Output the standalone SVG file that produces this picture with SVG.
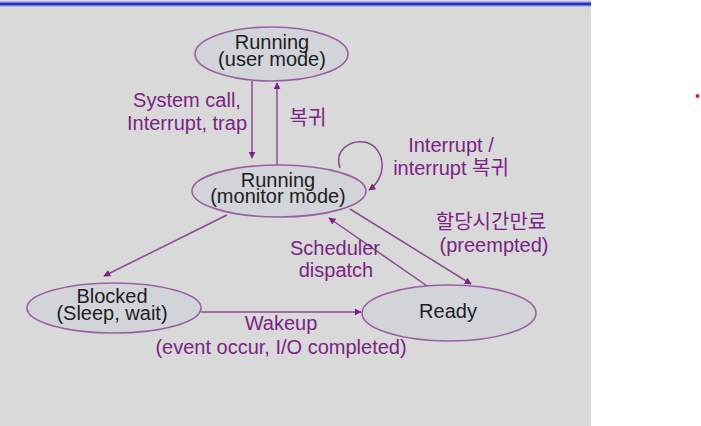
<svg xmlns="http://www.w3.org/2000/svg" width="701" height="426" viewBox="0 0 701 426">
<defs>
<style>
.node{fill:#d3d3da;stroke:#9a5fa3;stroke-width:1.6}
.nt{font-family:"Liberation Sans",Arial,sans-serif;font-size:20px;fill:#1e1e1e;text-anchor:middle}
.lb{font-family:"Liberation Sans","Noto Sans CJK KR",sans-serif;font-size:20px;fill:#7b2384;text-anchor:middle}
.ln{fill:none;stroke:#8c4892;stroke-width:1.5;marker-end:url(#ah)}
</style>
<marker id="ah" viewBox="0 0 10 10" refX="9" refY="5" markerWidth="7" markerHeight="7" markerUnits="userSpaceOnUse" orient="auto">
<path d="M0,0 L10,5 L0,10 z" fill="#7b2384"/>
</marker>
</defs>
<rect x="0" y="0" width="701" height="426" fill="#ffffff"/>
<rect x="0" y="0" width="591" height="426" fill="#d9d9d9"/>
<rect x="0" y="1.5" width="591" height="5" fill="#8a8ff0"/>
<rect x="0" y="2.8" width="591" height="2.4" fill="#2a32b8"/>
<circle cx="697.5" cy="96" r="2" fill="#e52020"/>

<g id="connectors">
<line class="ln" x1="252" y1="81" x2="252" y2="158"/>
<line class="ln" x1="277" y1="165" x2="277" y2="83"/>
<path class="ln" d="M340,168 C334,150 350,140 364,142 C384,145 390,175 369,190"/>
<line class="ln" x1="227" y1="215" x2="104" y2="276"/>
<line class="ln" x1="350" y1="209" x2="471" y2="284"/>
<line class="ln" x1="430" y1="288" x2="329" y2="218"/>
<line class="ln" x1="201" y1="312" x2="361" y2="312"/>
</g>

<g id="n_user">
<ellipse class="node" cx="271.5" cy="54" rx="76.5" ry="27"/>
<text class="nt" x="272" y="49">Running</text>
<text class="nt" x="272" y="66">(user mode)</text>
</g>
<g id="n_monitor">
<ellipse class="node" cx="279" cy="191" rx="87" ry="26"/>
<text class="nt" x="278" y="187">Running</text>
<text class="nt" x="278" y="203">(monitor mode)</text>
</g>
<g id="n_blocked">
<ellipse class="node" cx="114" cy="308" rx="87" ry="25"/>
<text class="nt" x="112" y="303">Blocked</text>
<text class="nt" x="112" y="320">(Sleep, wait)</text>
</g>
<g id="n_ready">
<ellipse class="node" cx="449" cy="313" rx="87" ry="28"/>
<text class="nt" x="448" y="318">Ready</text>
</g>

<g id="labels">
<text class="lb" x="187" y="107">System call,</text>
<text class="lb" x="187" y="130">Interrupt, trap</text>
<text class="lb" x="308" y="125">복귀</text>
<text class="lb" x="451" y="152">Interrupt /</text>
<text class="lb" x="451" y="175">interrupt 복귀</text>
<text class="lb" x="491" y="229">할당시간만료</text>
<text class="lb" x="494" y="252">(preempted)</text>
<text class="lb" x="335" y="255">Scheduler</text>
<text class="lb" x="336" y="277">dispatch</text>
<text class="lb" x="281" y="330">Wakeup</text>
<text class="lb" x="281" y="354">(event occur, I/O completed)</text>
</g>
</svg>
